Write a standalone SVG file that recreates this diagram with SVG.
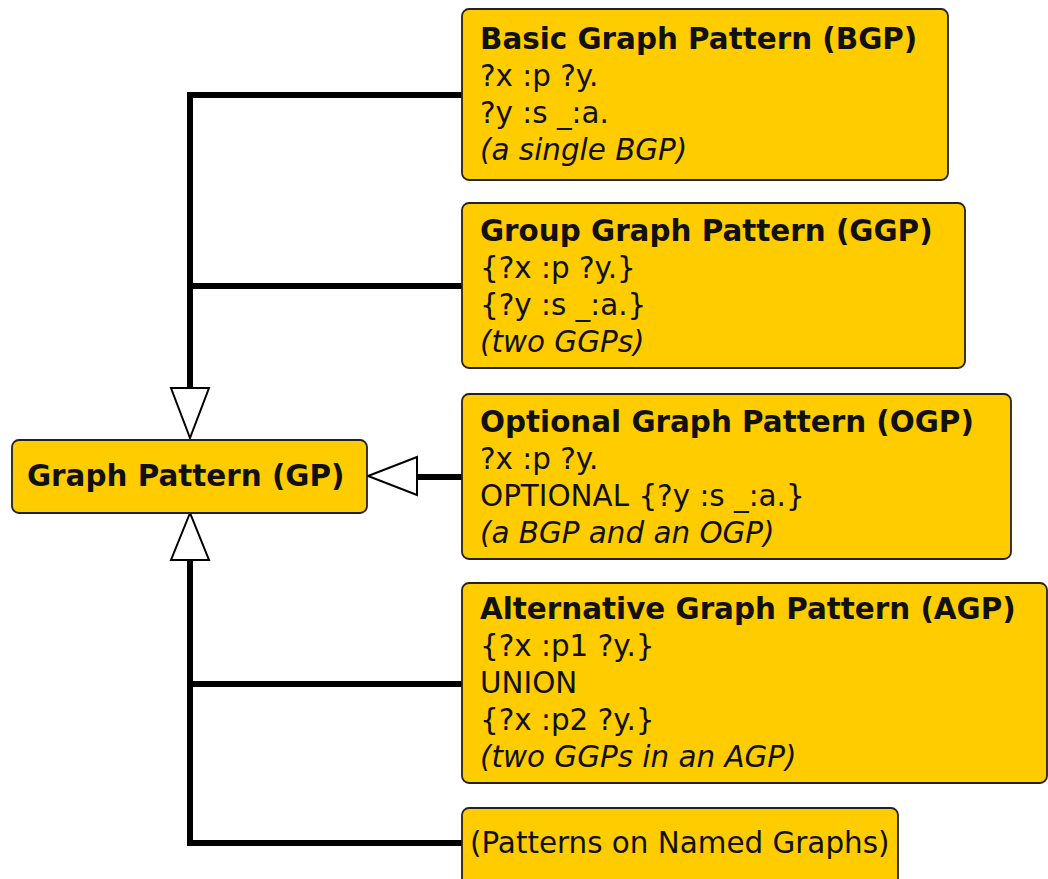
<svg xmlns="http://www.w3.org/2000/svg" width="1048" height="879" viewBox="0 0 1048 879">
<style>
.box{fill:#ffcc00;stroke:#222;stroke-width:1.8}
.t{font-family:"DejaVu Sans",sans-serif;font-size:29.4px;fill:#111}
.b{font-weight:bold}
.i{font-style:oblique}
.conn{fill:none;stroke:#000;stroke-width:6;stroke-linejoin:miter}
.head{fill:#fff;stroke:#000;stroke-width:2}
</style>
<rect width="1048" height="879" fill="#fff"/>
<g id="connectors">
<path class="conn" d="M462,95 H190 V390"/>
<path class="conn" d="M462,286 H190"/>
<path class="conn" d="M462,843 H190 V558"/>
<path class="conn" d="M462,684 H190"/>
<path class="conn" d="M462,477 H415"/>
<polygon class="head" points="171,388 209,388 190,438"/>
<polygon class="head" points="190,513 171,560 209,560"/>
<polygon class="head" points="368,476 417,457 417,495"/>
</g>
<g id="gp">
<rect class="box" x="12" y="440" width="355" height="73" rx="7"/>
<text class="t b" x="27" y="486">Graph Pattern (GP)</text>
</g>
<g id="bgp">
<rect class="box" x="462" y="9" width="486" height="171" rx="7"/>
<text class="t b" x="480" y="49">Basic Graph Pattern (BGP)</text>
<text class="t" x="480" y="86">?x :p ?y.</text>
<text class="t" x="480" y="123">?y :s _:a.</text>
<text class="t i" x="480" y="160">(a single BGP)</text>
</g>
<g id="ggp">
<rect class="box" x="462" y="203" width="503" height="165" rx="7"/>
<text class="t b" x="480" y="241">Group Graph Pattern (GGP)</text>
<text class="t" x="480" y="278">{?x :p ?y.}</text>
<text class="t" x="480" y="315">{?y :s _:a.}</text>
<text class="t i" x="480" y="352">(two GGPs)</text>
</g>
<g id="ogp">
<rect class="box" x="462" y="394" width="549" height="165" rx="7"/>
<text class="t b" x="480" y="432">Optional Graph Pattern (OGP)</text>
<text class="t" x="480" y="469">?x :p ?y.</text>
<text class="t" x="480" y="506">OPTIONAL {?y :s _:a.}</text>
<text class="t i" x="480" y="543">(a BGP and an OGP)</text>
</g>
<g id="agp">
<rect class="box" x="462" y="583" width="585" height="200" rx="7"/>
<text class="t b" x="480" y="619">Alternative Graph Pattern (AGP)</text>
<text class="t" x="480" y="656">{?x :p1 ?y.}</text>
<text class="t" x="480" y="693">UNION</text>
<text class="t" x="480" y="730">{?x :p2 ?y.}</text>
<text class="t i" x="480" y="767">(two GGPs in an AGP)</text>
</g>
<g id="named">
<rect class="box" x="462" y="808" width="436" height="78" rx="7"/>
<text class="t" x="470" y="853">(Patterns on Named Graphs)</text>
</g>
</svg>
